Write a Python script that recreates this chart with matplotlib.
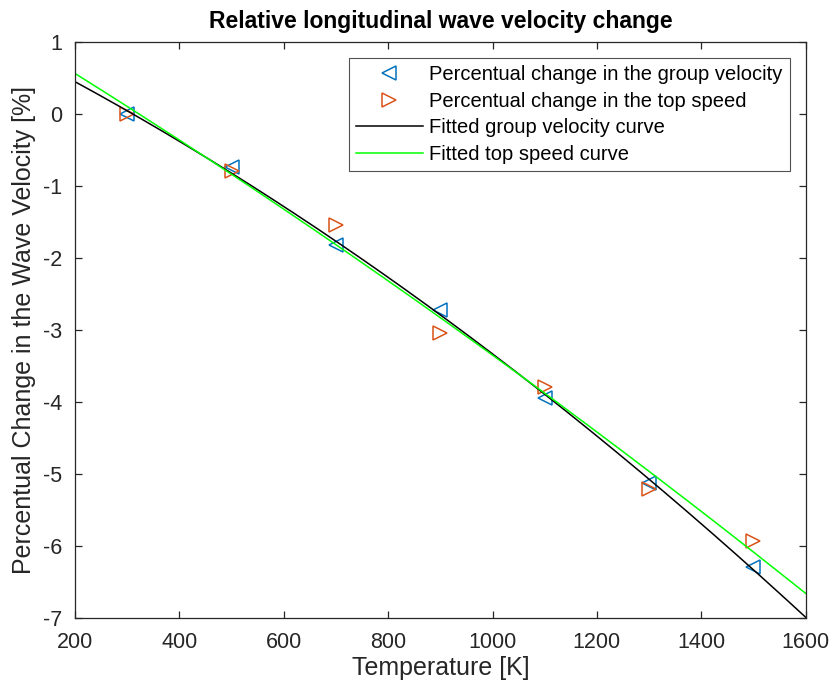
import matplotlib.pyplot as plt
import numpy as np

plt.rcParams['font.family'] = ['Liberation Sans', 'DejaVu Sans']
plt.rcParams['axes.unicode_minus'] = False

temperature = [300, 500, 700, 900, 1100, 1300, 1500]
group_change = [0.0, -0.74, -1.82, -2.72, -3.94, -5.12, -6.29]
top_change = [0.0, -0.79, -1.54, -3.04, -3.79, -5.21, -5.93]

# quadratic fits, like the original fitted curves
group_fit = np.polyfit(temperature, group_change, 2)
top_fit = np.polyfit(temperature, top_change, 2)
t_fit = np.linspace(200, 1600, 300)

fig = plt.figure(figsize=(8.34, 6.9), dpi=100)
ax = fig.add_axes([0.09, 0.1043, 0.876, 0.8348])

ax.plot(temperature, group_change, '<', color='#0072BD', mfc='none', ms=10, mew=1.1,
        label='Percentual change in the group velocity')
ax.plot(temperature, top_change, '>', color='#D95319', mfc='none', ms=10, mew=1.1,
        label='Percentual change in the top speed')
ax.plot(t_fit, np.polyval(group_fit, t_fit), color='black', lw=1.1,
        label='Fitted group velocity curve')
ax.plot(t_fit, np.polyval(top_fit, t_fit), color='#00FF00', lw=1.1,
        label='Fitted top speed curve')

ax.set_xlim(200, 1600)
ax.set_ylim(-7, 1)
ax.set_xticks(np.arange(200, 1601, 200))
ax.set_yticks(np.arange(-7, 2, 1))
ax.tick_params(direction='in', top=True, right=True, labelsize=15.5,
               colors='#262626', length=5, width=0.9)
ax.tick_params(axis='x', pad=10)
ax.tick_params(axis='y', pad=9)
for s in ax.spines.values():
    s.set_color('#262626')
    s.set_linewidth(0.9)
ax.set_xlabel('Temperature [K]', fontsize=18, color='#262626', labelpad=2)
ax.set_ylabel('Percentual Change in the Wave Velocity [%]', fontsize=18,
              color='#262626', labelpad=5)
ax.set_title('Relative longitudinal wave velocity change', fontsize=16.5,
             fontweight='bold', pad=10)

leg = ax.legend(loc='upper right', fontsize=14.5, fancybox=False, edgecolor='#262626',
                borderaxespad=0.8, handlelength=3.35, handletextpad=0.3,
                labelspacing=0.38, borderpad=0.35)
leg.get_frame().set_linewidth(0.8)

fig.savefig('out.png')
